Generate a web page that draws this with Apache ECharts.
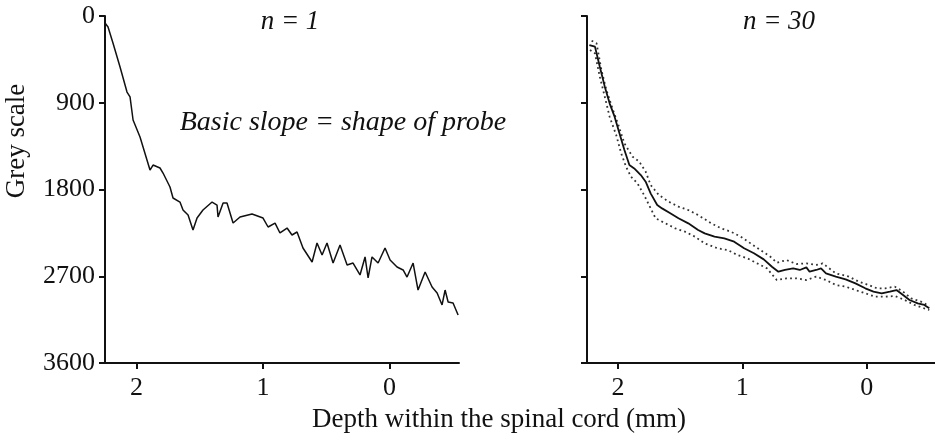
<!DOCTYPE html>
<html style="height: 100%">
<head>
    <meta charset="utf-8">
</head>
<body style="height: 100%; margin: 0; background: #fff">
<div id="container" style="width: 935px;height: 440px"></div>

<script src="https://cdn.jsdelivr.net/npm/echarts@6/dist/echarts.min.js"></script>
<script type="text/javascript">
    // n = 1 : single trace
    var depthN1 = [2.25, 2.226, 2.187, 2.131, 2.076, 2.052, 2.028, 1.973, 1.918, 1.894, 1.870, 1.815, 1.791, 1.736,
        1.712, 1.657, 1.633, 1.593, 1.554, 1.522, 1.475, 1.403, 1.364, 1.356, 1.316, 1.285, 1.237, 1.182, 1.087,
        1.0, 0.960, 0.905, 0.866, 0.810, 0.771, 0.731, 0.684, 0.612, 0.573, 0.533, 0.494, 0.446, 0.391, 0.335,
        0.288, 0.233, 0.193, 0.169, 0.138, 0.090, 0.035, -0.005, -0.060, -0.108, -0.139, -0.187, -0.226, -0.282,
        -0.337, -0.377, -0.416, -0.440, -0.464, -0.503, -0.543];
    var greyN1 = [73, 114, 280, 529, 789, 840, 1079, 1255, 1494, 1598, 1546, 1577, 1629, 1774,
        1888, 1930, 2013, 2065, 2220, 2096, 2013, 1930, 1961, 2085, 1940, 1940, 2148, 2085, 2054,
        2096, 2189, 2148, 2251, 2200, 2272, 2241, 2407, 2552, 2355, 2480, 2355, 2563, 2376, 2583,
        2563, 2687, 2500, 2718, 2500, 2563, 2407, 2531, 2604, 2635, 2708, 2563, 2843, 2656,
        2812, 2874, 2998, 2843, 2967, 2978, 3102];

    // n = 30 : mean trace
    var depthMean = [2.231, 2.186, 2.147, 2.107, 2.068, 2.028, 1.989, 1.949, 1.909, 1.870, 1.817, 1.778, 1.738,
        1.685, 1.646, 1.580, 1.514, 1.435, 1.356, 1.303, 1.224, 1.145, 1.066, 0.986, 0.907, 0.828, 0.762,
        0.710, 0.657, 0.591, 0.538, 0.485, 0.459, 0.406, 0.367, 0.327, 0.248, 0.169, 0.090, 0.011, -0.055,
        -0.121, -0.187, -0.240, -0.293, -0.345, -0.411, -0.464, -0.504];
    var greyMean = [301, 318, 526, 733, 906, 1044, 1217, 1390, 1546, 1581, 1650, 1719, 1840,
        1961, 1996, 2047, 2099, 2151, 2220, 2255, 2289, 2307, 2341, 2410, 2462, 2525, 2601,
        2653, 2635, 2618, 2635, 2608, 2653, 2635, 2618, 2670, 2704, 2732, 2774, 2825, 2860,
        2877, 2860, 2843, 2895, 2946, 2981, 2998, 3033];

    // n = 30 : upper / lower dotted bounds
    var depthUpper = [2.213, 2.173, 2.134, 2.094, 2.041, 2.002, 1.949, 1.883, 1.830, 1.778, 1.738, 1.672, 1.593,
        1.514, 1.435, 1.356, 1.250, 1.171, 1.092, 1.013, 0.934, 0.855, 0.775, 0.723, 0.644, 0.565, 0.485,
        0.406, 0.354, 0.248, 0.195, 0.143, 0.063, -0.016, -0.082, -0.148, -0.227, -0.293, -0.358, -0.438, -0.504];
    var greyUpper = [256, 284, 560, 768, 975, 1114, 1321, 1460, 1511, 1615, 1753, 1857, 1926,
        1978, 2013, 2065, 2151, 2203, 2238, 2289, 2359, 2428, 2497, 2559, 2532, 2573, 2566,
        2583, 2566, 2670, 2687, 2704, 2756, 2791, 2825, 2825, 2808, 2860, 2929, 2964, 3009];
    var depthLower = [2.226, 2.186, 2.147, 2.107, 2.068, 2.015, 1.975, 1.936, 1.896, 1.844, 1.791, 1.751, 1.698,
        1.619, 1.540, 1.461, 1.382, 1.303, 1.197, 1.118, 1.039, 0.960, 0.881, 0.802, 0.723, 0.644, 0.565,
        0.485, 0.406, 0.327, 0.248, 0.169, 0.090, 0.011, -0.068, -0.148, -0.227, -0.306, -0.385, -0.464, -0.504];
    var greyLower = [353, 388, 630, 837, 1045, 1235, 1425, 1563, 1667, 1736, 1857, 1961, 2099,
        2151, 2203, 2238, 2289, 2359, 2411, 2428, 2480, 2514, 2566, 2618, 2739, 2722, 2722,
        2739, 2704, 2739, 2791, 2808, 2843, 2877, 2912, 2912, 2905, 2946, 2998, 3033, 3050];

    var depthTicks = [0, 1, 2];

    function zip(xs, ys) {
        return xs.map(function (x, i) { return [x, ys[i]]; });
    }

    var font = '"Liberation Serif", "DejaVu Serif", serif';
    var ink = '#111';

    function makeXAxis(idx) {
        return {
            gridIndex: idx,
            type: 'value',
            min: -0.55,
            max: 2.25,
            inverse: true,
            splitLine: {show: false},
            axisLine: {show: true, onZero: false, lineStyle: {color: ink, width: 2}},
            axisTick: {show: true, length: 6, customValues: depthTicks, lineStyle: {color: ink, width: 2}},
            axisLabel: {
                customValues: depthTicks,
                color: ink, fontFamily: font, fontSize: 26, margin: 12
            }
        };
    }

    function makeYAxis(idx, labels) {
        return {
            gridIndex: idx,
            type: 'value',
            min: 0,
            max: 3600,
            interval: 900,
            inverse: true,
            splitLine: {show: false},
            axisLine: {show: true, onZero: false, lineStyle: {color: ink, width: 2}},
            axisTick: {show: true, length: 6, lineStyle: {color: ink, width: 2}},
            axisLabel: {
                show: labels, color: ink, fontFamily: font, fontSize: 26, margin: 10,
                formatter: function (v) { return String(v); }
            }
        };
    }

    var dom = document.getElementById('container');
    var myChart = echarts.init(dom);

    var option = {
        backgroundColor: '#fff',
        animation: false,
        grid: [
            {left: 105, top: 16, width: 354, height: 347},
            {left: 587, top: 16, width: 354, height: 347}
        ],
        xAxis: [makeXAxis(0), makeXAxis(1)],
        yAxis: [makeYAxis(0, true), makeYAxis(1, false)],
        graphic: [
            {
                type: 'text', x: 290, y: 22,
                style: {text: 'n = 1', fill: ink, font: 'italic 27px ' + font, align: 'center', verticalAlign: 'middle'}
            },
            {
                type: 'text', x: 779, y: 22,
                style: {text: 'n = 30', fill: ink, font: 'italic 27px ' + font, align: 'center', verticalAlign: 'middle'}
            },
            {
                type: 'text', x: 343, y: 123,
                style: {text: 'Basic slope = shape of probe', fill: ink, font: 'italic 28px ' + font, align: 'center', verticalAlign: 'middle'}
            },
            {
                type: 'text', x: 17, y: 141, rotation: Math.PI / 2,
                style: {text: 'Grey scale', fill: ink, font: '27px ' + font, align: 'center', verticalAlign: 'middle'}
            },
            {
                type: 'text', x: 499, y: 420,
                style: {text: 'Depth within the spinal cord (mm)', fill: ink, font: '27px ' + font, align: 'center', verticalAlign: 'middle'}
            }
        ],
        series: [
            {
                type: 'line', xAxisIndex: 0, yAxisIndex: 0,
                data: zip(depthN1, greyN1),
                showSymbol: false,
                lineStyle: {color: ink, width: 1.5}
            },
            {
                type: 'line', xAxisIndex: 1, yAxisIndex: 1,
                data: zip(depthUpper, greyUpper),
                showSymbol: false,
                lineStyle: {color: '#333', width: 1.8, type: [1.8, 3.2]}
            },
            {
                type: 'line', xAxisIndex: 1, yAxisIndex: 1,
                data: zip(depthLower, greyLower),
                showSymbol: false,
                lineStyle: {color: '#333', width: 1.8, type: [1.8, 3.2]}
            },
            {
                type: 'line', xAxisIndex: 1, yAxisIndex: 1,
                data: zip(depthMean, greyMean),
                showSymbol: false,
                lineStyle: {color: ink, width: 1.8}
            }
        ]
    };

    myChart.setOption(option);
</script>
</body>
</html>
